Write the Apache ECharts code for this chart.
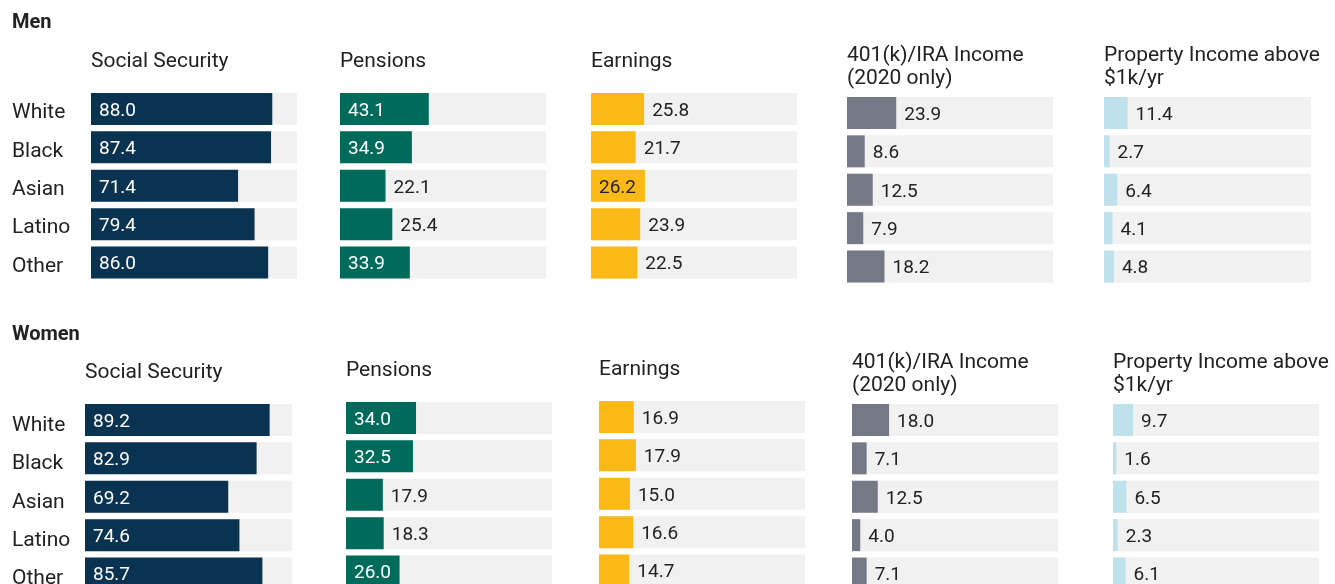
<!DOCTYPE html>
<html>
<head>
<meta charset="utf-8">
<script src="https://cdn.jsdelivr.net/npm/echarts@6/dist/echarts.min.js"></script>
<style>
html,body{margin:0;padding:0;background:#fff;overflow:hidden;}
#chart{width:1335px;height:640px;}
</style>
</head>
<body>
<div id="chart"></div>
<script>
// ---- data ----
var categories = ['White', 'Black', 'Asian', 'Latino', 'Other'];
var groupTitles = ['Men', 'Women'];
var panelTitles = ['Social Security', 'Pensions', 'Earnings', '401(k)/IRA Income\n(2020 only)', 'Property Income above\n$1k/yr'];

var menSocialSecurity = [88.0, 87.4, 71.4, 79.4, 86.0];
var menPensions       = [43.1, 34.9, 22.1, 25.4, 33.9];
var menEarnings       = [25.8, 21.7, 26.2, 23.9, 22.5];
var men401k           = [23.9, 8.6, 12.5, 7.9, 18.2];
var menProperty       = [11.4, 2.7, 6.4, 4.1, 4.8];

var womenSocialSecurity = [89.2, 82.9, 69.2, 74.6, 85.7];
var womenPensions       = [34.0, 32.5, 17.9, 18.3, 26.0];
var womenEarnings       = [16.9, 17.9, 15.0, 16.6, 14.7];
var women401k           = [18.0, 7.1, 12.5, 4.0, 7.1];
var womenProperty       = [9.7, 1.6, 6.5, 2.3, 6.1];

// ---- styling / layout ----
var barColors = ['#0a3351', '#006b5a', '#fbb917', '#757985', '#bfe1ec'];
var insideLabelColors = ['#ffffff', '#ffffff', '#222222', '#ffffff', '#222222'];
var textColor = '#222222';
var trackColor = '#f1f1f1';
var insideThreshold = 26;

var groups = [
  {
    series: [menSocialSecurity, menPensions, menEarnings, men401k, menProperty],
    titleY: 22.5,
    labelLineHeight: 8,
    lefts: [91, 340, 591, 847, 1104],
    widths: [206, 206, 206, 206, 207],
    tops: [89.75, 89.75, 89.75, 93.75, 93.75],
    titleYs: [62, 61.5, 61.5, 67, 67]
  },
  {
    series: [womenSocialSecurity, womenPensions, womenEarnings, women401k, womenProperty],
    titleY: 334.5,
    labelLineHeight: 11,
    lefts: [85, 346, 599, 852, 1113],
    widths: [207, 206, 206, 206, 206],
    tops: [400.75, 398.75, 397.75, 400.75, 400.75],
    titleYs: [373, 371, 370, 374, 374]
  }
];

var grids = [], xAxes = [], yAxes = [], series = [], graphics = [];
var rowStep = 38.4;

groups.forEach(function (g, gi) {
  graphics.push({
    type: 'text',
    style: { x: 12, y: g.titleY, text: groupTitles[gi], font: 'bold 20px Roboto', fill: textColor, verticalAlign: 'middle' }
  });
  g.series.forEach(function (vals, pi) {
    var idx = grids.length;
    grids.push({ left: g.lefts[pi], top: g.tops[pi], width: g.widths[pi], height: rowStep * 5, containLabel: false });
    xAxes.push({ gridIndex: idx, type: 'value', min: 0, max: 100, show: false });
    yAxes.push({
      gridIndex: idx, type: 'category', data: categories, inverse: true,
      axisLine: { show: false }, axisTick: { show: false }, splitLine: { show: false },
      axisLabel: {
        show: pi === 0, align: 'left', verticalAlign: 'top', lineHeight: g.labelLineHeight,
        margin: g.lefts[pi] - 12,
        fontFamily: 'Roboto', fontSize: 21, color: textColor
      }
    });
    series.push({
      type: 'bar', xAxisIndex: idx, yAxisIndex: idx, barWidth: 32,
      showBackground: true, backgroundStyle: { color: trackColor },
      itemStyle: { color: barColors[pi] },
      animation: false,
      data: vals.map(function (v) {
        var inside = v >= insideThreshold;
        return {
          value: v,
          label: {
            show: true,
            position: inside ? 'insideLeft' : 'right',
            distance: 8,
            offset: [0, 2],
            color: inside ? insideLabelColors[pi] : textColor,
            fontFamily: 'Roboto', fontSize: 19,
            formatter: function (p) { return p.value.toFixed(1); }
          }
        };
      })
    });
    var twoLine = panelTitles[pi].indexOf('\n') >= 0;
    graphics.push({
      type: 'text',
      style: {
        x: g.lefts[pi], y: g.titleYs[pi], text: panelTitles[pi],
        font: '21px Roboto', fill: textColor, verticalAlign: 'middle',
        lineHeight: twoLine ? 23.5 : 25
      }
    });
  });
});

var chart = echarts.init(document.getElementById('chart'), null, { renderer: 'canvas' });
chart.setOption({
  animation: false,
  backgroundColor: '#ffffff',
  grid: grids,
  xAxis: xAxes,
  yAxis: yAxes,
  series: series,
  graphic: graphics
});
</script>
</body>
</html>
